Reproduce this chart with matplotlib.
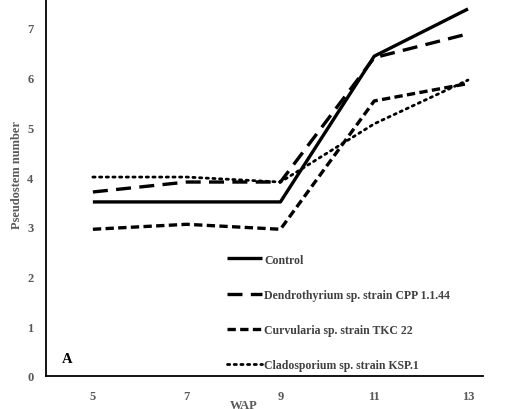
import matplotlib.pyplot as plt

weeks = ["5", "7", "9", "11", "13"]
control = [3.5, 3.5, 3.5, 6.43, 7.38]
dendro = [3.7, 3.9, 3.9, 6.4, 6.88]
curvularia = [2.95, 3.05, 2.95, 5.53, 5.88]
clado = [4.0, 4.0, 3.9, 5.07, 5.95]

labels = ["Control", "Dendrothyrium sp. strain CPP 1.1.44",
          "Curvularia sp. strain TKC 22", "Cladosporium sp. strain KSP.1"]

plt.rcParams['font.family'] = ['Liberation Serif', 'DejaVu Serif']
plt.rcParams['font.weight'] = 'bold'

fig = plt.figure(figsize=(5.17, 4.10), dpi=100)
ax = fig.add_axes([46/517, 33/410, (483-46)/517, 377/410])

x = list(range(len(weeks)))
ax.plot(x, control, color='black', lw=2.4, solid_capstyle='butt', label=labels[0])
ax.plot(x, dendro, color='black', lw=2.4, dashes=(4.5, 2.5), label=labels[1])
ax.plot(x, curvularia, color='black', lw=2.4, dashes=(2.5, 1.3), label=labels[2])
ax.plot(x, clado, color='black', lw=2.0, dashes=(0.8, 1.6), dash_capstyle='round', label=labels[3])

ax.set_xlim(-0.5, 4.16)
ax.set_ylim(0, 7.58)
ax.set_xticks(x)
ax.set_xticklabels(weeks)
ax.set_yticks(range(8))
ax.tick_params(length=0, labelsize=9, labelcolor='#595959', pad=10)
ax.tick_params(axis='y', pad=9)
for s in ['top', 'right']:
    ax.spines[s].set_visible(False)
for s in ['left', 'bottom']:
    ax.spines[s].set_linewidth(1.3)

ax.set_ylabel("Pseudostem number", fontsize=9, color='#595959', fontweight='bold')
ax.yaxis.set_label_coords(-23/437, 0.535)
ax.set_xlabel("WAP", fontsize=9, color='#595959', fontweight='bold')
ax.xaxis.set_label_coords(198/437, -23/377)
ax.xaxis.label.set_va('top')

ax.text(16/437, 17/377, "A", transform=ax.transAxes, fontsize=10.5, fontweight='bold', va='center')

leg = ax.legend(loc='upper left', bbox_to_anchor=(216/517, 166/410), bbox_transform=fig.transFigure,
                frameon=False, fontsize=8.5, handlelength=3.0, handletextpad=0.2, labelspacing=1.95)
for t in leg.get_texts():
    t.set_color('#404040')

fig.savefig("out.png", dpi=100)
